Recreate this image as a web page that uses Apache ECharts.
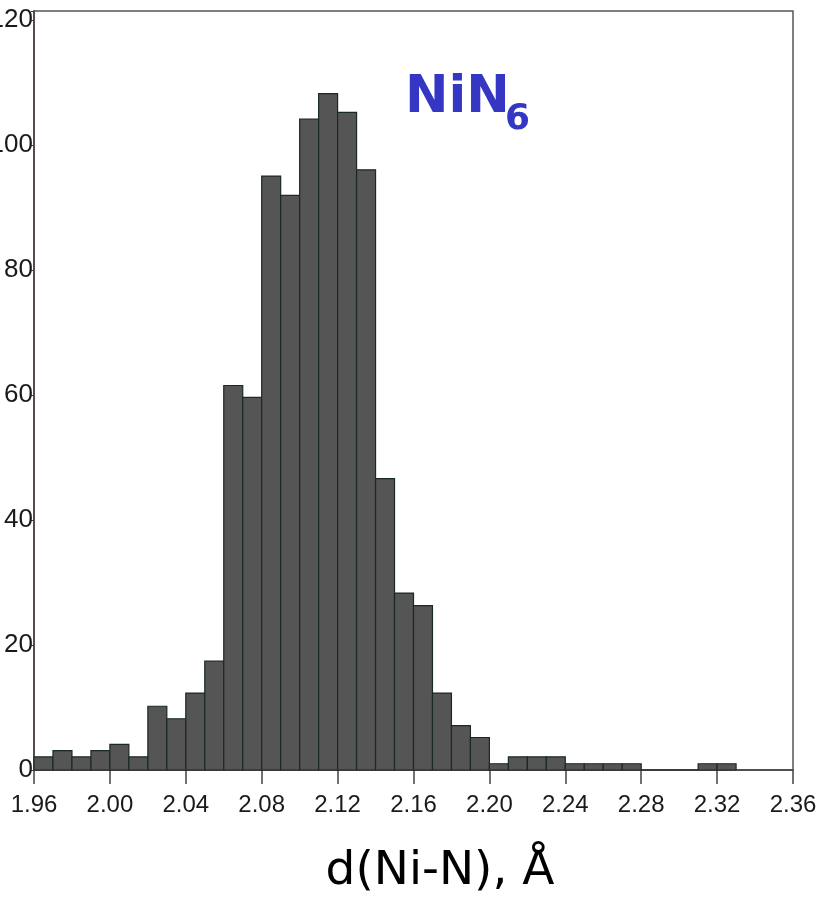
<!DOCTYPE html>
<html>
<head>
<meta charset="utf-8">
<script src="https://cdn.jsdelivr.net/npm/echarts@6/dist/echarts.min.js"></script>
<style>
html,body{margin:0;padding:0;background:#fff;}
#chart{width:840px;height:903px;}
</style>
</head>
<body>
<div id="chart"></div>
<script>
// Histogram bins: left edge of each bin (Å), bin width 0.01 Å
const binStarts = [1.96,1.97,1.98,1.99,2.00,2.01,2.02,2.03,2.04,2.05,
                   2.06,2.07,2.08,2.09,2.10,2.11,2.12,2.13,2.14,2.15,
                   2.16,2.17,2.18,2.19,2.20,2.21,2.22,2.23,2.24,2.25,
                   2.26,2.27,2.28,2.29,2.30,2.31,2.32];
const binWidth = 0.01;
const counts = [2.1,3.1,2.1,3.1,4.1,2.1,10.2,8.2,12.3,17.4,
                61.5,59.6,95.0,91.9,104.1,108.2,105.2,96.0,46.6,28.3,
                26.3,12.3,7.1,5.2,1.0,2.1,2.1,2.1,1.0,1.0,
                1.0,1.0,0,0,0,1.0,1.0];
const xTicks = [1.96,2.00,2.04,2.08,2.12,2.16,2.20,2.24,2.28,2.32,2.36];
const yTicks = [0,20,40,60,80,100,120];
const titleMain = 'NiN';
const titleSub = '6';
const xTitle = 'd(Ni-N), Å';

const data = binStarts.map((s, i) => [s, +(s + binWidth).toFixed(2), counts[i]]);

const chart = echarts.init(document.getElementById('chart'), null, {renderer: 'canvas'});
chart.setOption({
  animation: false,
  backgroundColor: '#ffffff',
  grid: {
    left: 34, right: 47, top: 11, bottom: 133,
    containLabel: false, outerBoundsMode: 'none',
    show: true, borderColor: '#555555', borderWidth: 1.5, backgroundColor: 'transparent'
  },
  xAxis: {
    type: 'value',
    min: xTicks[0], max: xTicks[xTicks.length - 1], interval: 0.04,
    axisLine: {lineStyle: {color: '#4a4040', width: 1.5}},
    axisTick: {show: true, inside: false, length: 14, lineStyle: {color: '#4a4040', width: 1.5}},
    axisLabel: {
      fontFamily: 'Liberation Sans, Arial, sans-serif', fontSize: 24, color: '#1a1a1a', margin: 23,
      hideOverlap: false, showMinLabel: true, showMaxLabel: true,
      formatter: v => v.toFixed(2)
    },
    splitLine: {show: false}
  },
  yAxis: {
    type: 'value',
    min: 0, max: 121.4, interval: 20,
    axisLine: {show: true, lineStyle: {color: '#4a3a3a', width: 1.5}},
    axisTick: {show: true, length: 3, lineStyle: {color: '#4a3a3a'}},
    axisLabel: {
      fontFamily: 'Liberation Sans, Arial, sans-serif', fontSize: 26, color: '#1a1a1a', margin: 1,
      formatter: v => (yTicks.indexOf(v) >= 0 ? String(v) : '')
    },
    splitLine: {show: false}
  },
  series: [{
    type: 'custom',
    data: data,
    encode: {x: [0, 1], y: 2},
    renderItem: function (params, api) {
      const p0 = api.coord([api.value(0), api.value(2)]);
      const p1 = api.coord([api.value(1), 0]);
      return {
        type: 'rect',
        shape: {x: p0[0], y: p0[1], width: p1[0] - p0[0], height: p1[1] - p0[1]},
        style: {fill: '#555555', stroke: '#1a2828', lineWidth: 1.2}
      };
    }
  }],
  graphic: [
    {type: 'text', x: 405, y: 72,
     style: {text: titleMain, fontFamily: 'DejaVu Sans, sans-serif', fontWeight: 'bold', fontSize: 52, fill: '#3636c4', textAlign: 'left', textVerticalAlign: 'top'}},
    {type: 'text', x: 505, y: 102,
     style: {text: titleSub, fontFamily: 'DejaVu Sans, sans-serif', fontWeight: 'bold', fontSize: 36, fill: '#3636c4', textAlign: 'left', textVerticalAlign: 'top'}},
    {type: 'text', x: 440, y: 848,
     style: {text: xTitle, fontFamily: 'DejaVu Sans, sans-serif', fontSize: 47, fill: '#000000', textAlign: 'center', textVerticalAlign: 'top'}}
  ]
});
</script>
</body>
</html>
